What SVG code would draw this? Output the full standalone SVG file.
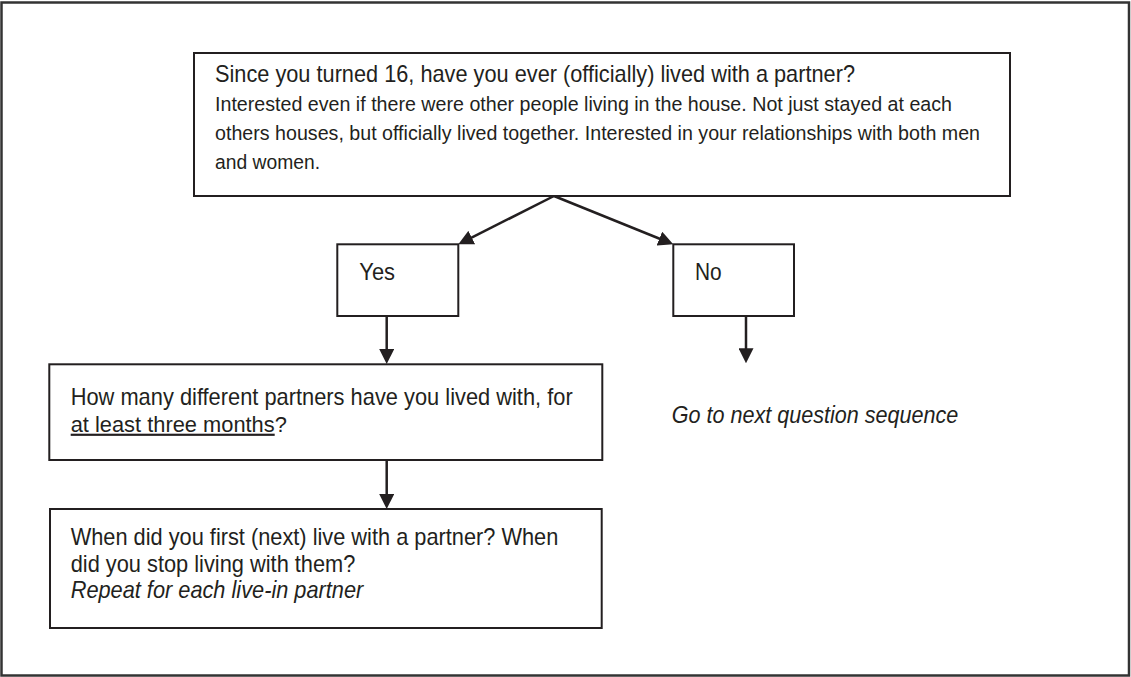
<svg xmlns="http://www.w3.org/2000/svg" width="1131" height="677" viewBox="0 0 1131 677">
<style>
.box{fill:#fff;stroke:#231f20;stroke-width:2}
.t{font-family:"Liberation Sans",Arial,sans-serif;fill:#231f20;font-size:23.8px}
.s{font-family:"Liberation Sans",Arial,sans-serif;fill:#231f20;font-size:19.3px}
.i{font-style:italic}
.c{stroke:#231f20;stroke-width:2.5;fill:none}
</style>
<defs>
<marker id="ah" viewBox="0 0 15 15" refX="9" refY="7.5" markerWidth="15" markerHeight="15" markerUnits="userSpaceOnUse" orient="auto">
<path d="M0,0 L15,7.5 L0,15 z" fill="#231f20"/>
</marker>
</defs>
<rect x="0" y="0" width="1131" height="677" fill="#fff"/>
<rect x="1.5" y="2.5" width="1127.5" height="673" fill="none" stroke="#333" stroke-width="2.5"/>
<g id="connectors">
<line class="c" x1="554" y1="196" x2="463.7" y2="241.6" marker-end="url(#ah)"/>
<line class="c" x1="554" y1="196" x2="667.7" y2="242" marker-end="url(#ah)"/>
<line class="c" x1="386.7" y1="316" x2="386.7" y2="358" marker-end="url(#ah)"/>
<line class="c" x1="746" y1="316" x2="746" y2="357.3" marker-end="url(#ah)"/>
<line class="c" x1="386.7" y1="460" x2="386.7" y2="503" marker-end="url(#ah)"/>
</g>
<g id="q1">
<rect class="box" x="194" y="53" width="816" height="143"/>
<text class="t" x="215" y="82" textLength="640" lengthAdjust="spacingAndGlyphs">Since you turned 16, have you ever (officially) lived with a partner?</text>
<text class="s" x="215" y="111" textLength="737" lengthAdjust="spacingAndGlyphs">Interested even if there were other people living in the house. Not just stayed at each</text>
<text class="s" x="215" y="139.5" textLength="765" lengthAdjust="spacingAndGlyphs">others houses, but officially lived together. Interested in your relationships with both men</text>
<text class="s" x="215" y="168.5" textLength="105" lengthAdjust="spacingAndGlyphs">and women.</text>
</g>
<g id="yes">
<rect class="box" x="337.3" y="244.3" width="121" height="71.7"/>
<text class="t" x="359.3" y="280" textLength="35.7" lengthAdjust="spacingAndGlyphs">Yes</text>
</g>
<g id="no">
<rect class="box" x="673.3" y="244.3" width="120.7" height="71.7"/>
<text class="t" x="695" y="280" textLength="26.7" lengthAdjust="spacingAndGlyphs">No</text>
</g>
<g id="goto">
<text class="t i" x="671.7" y="423.3" textLength="286.6" lengthAdjust="spacingAndGlyphs">Go to next question sequence</text>
</g>
<g id="q2">
<rect class="box" x="49.3" y="364.3" width="553" height="95.7"/>
<text class="t" x="70.7" y="405" textLength="502" lengthAdjust="spacingAndGlyphs">How many different partners have you lived with, for</text>
<text x="70.7" y="431.7" font-family="Liberation Sans, Arial, sans-serif" font-size="21.85" fill="#231f20"><tspan text-decoration="underline">at least three months</tspan>?</text>
</g>
<g id="q3">
<rect class="box" x="50" y="509" width="551.7" height="119"/>
<text class="t" x="70.7" y="545" textLength="487.6" lengthAdjust="spacingAndGlyphs">When did you first (next) live with a partner? When</text>
<text class="t" x="70.7" y="571.7" textLength="284.7" lengthAdjust="spacingAndGlyphs">did you stop living with them?</text>
<text class="t i" x="70.7" y="598.3" textLength="292.6" lengthAdjust="spacingAndGlyphs">Repeat for each live-in partner</text>
</g>
</svg>
